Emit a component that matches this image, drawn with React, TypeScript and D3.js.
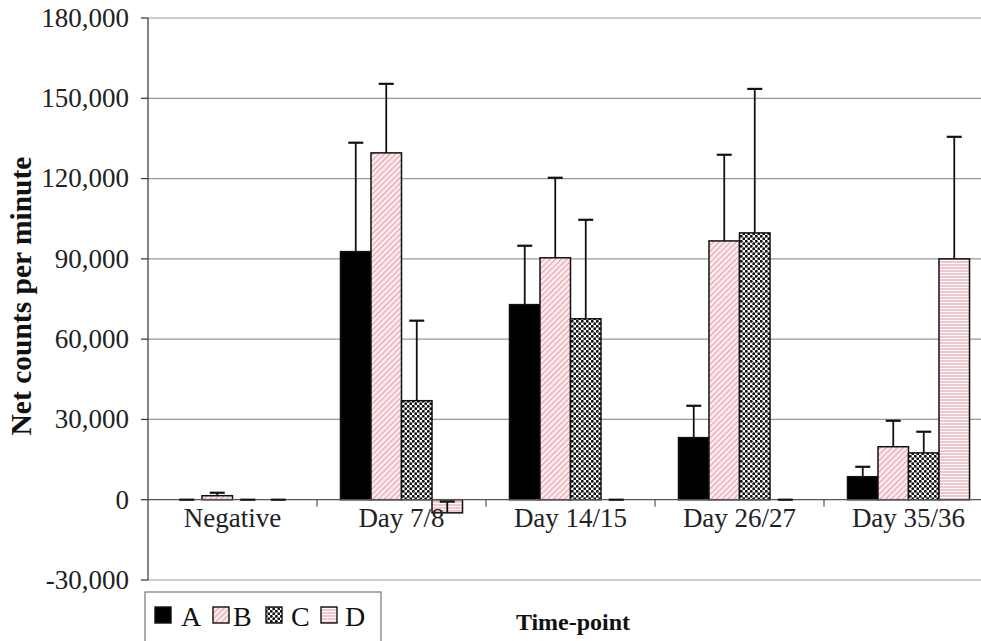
import React from "react";
import * as d3 from "d3";

const categories = ["Negative", "Day 7/8", "Day 14/15", "Day 26/27", "Day 35/36"];
const seriesNames = ["A", "B", "C", "D"];
const valuesA = [0, 92700, 72900, 23200, 8600];
const valuesB = [1500, 129600, 90400, 96700, 19800];
const valuesC = [0, 37000, 67600, 99700, 17500];
const valuesD = [0, -4900, 0, 0, 90000];
const errA = [0, 40700, 22000, 11900, 3700];
const errB = [1100, 25800, 29900, 32200, 9700];
const errC = [0, 29900, 37000, 53800, 7900];
const errD = [0, 4200, 0, 0, 45600];
const yTicks = [-30000, 0, 30000, 60000, 90000, 120000, 150000, 180000];

const seriesValues = [valuesA, valuesB, valuesC, valuesD];
const seriesErr = [errA, errB, errC, errD];
const fills = ["#000", "url(#patB)", "url(#patC)", "url(#patD)"];

const W = 981;
const H = 641;
const FONT = "'Liberation Serif', 'Times New Roman', serif";

export default function App() {
  const y = d3.scaleLinear().domain([-30000, 180000]).range([580, 18]);
  const x0 = d3.scaleBand<string>().domain(categories).range([148, 993]).padding(0);
  const bw = x0.bandwidth();
  const x1 = d3.scaleBand<string>().domain(seriesNames).range([bw * 0.139, bw * 0.861]).padding(0);
  const fmt = (t: number) => d3.format(",")(t).replace("\u2212", "-");
  const capW = 15;

  return (
    <svg width={W} height={H} style={{ position: "absolute", left: 0, top: 0, background: "#fff" }}>
      <defs>
        <pattern id="patB" width={4} height={4} patternUnits="userSpaceOnUse" patternTransform="rotate(45)">
          <rect width={4} height={4} fill="#fbe9ec" />
          <line x1={0} y1={0} x2={0} y2={4} stroke="#e48a9a" strokeWidth={1.6} />
        </pattern>
        <pattern id="patC" width={5} height={5} patternUnits="userSpaceOnUse">
          <rect width={5} height={5} fill="#fff" />
          <circle cx={1.25} cy={1.25} r={1.45} fill="#111" />
          <circle cx={3.75} cy={3.75} r={1.45} fill="#111" />
        </pattern>
        <pattern id="patD" width={4} height={3} patternUnits="userSpaceOnUse">
          <rect width={4} height={3} fill="#fff" />
          <line x1={0} y1={1} x2={4} y2={1} stroke="#eaa0ac" strokeWidth={1.2} />
        </pattern>
      </defs>

      {/* gridlines */}
      {yTicks.filter((t) => t !== 0).map((t) => (
        <line key={"g" + t} x1={148} x2={W} y1={y(t)} y2={y(t)} stroke="#999" strokeWidth={1.2} />
      ))}

      {/* y axis */}
      <line x1={148} x2={148} y1={y(180000)} y2={y(-30000)} stroke="#333" strokeWidth={1.2} />
      {yTicks.map((t) => (
        <g key={"t" + t}>
          <line x1={141} x2={148} y1={y(t)} y2={y(t)} stroke="#333" strokeWidth={1.2} />
          <text x={129} y={y(t)} dy="0.33em" textAnchor="end" fontFamily={FONT} fontSize={27} fill="#222">
            {fmt(t)}
          </text>
        </g>
      ))}

      {/* bars */}
      {categories.map((c, ci) => (
        <g key={c} transform={`translate(${x0(c)},0)`}>
          {seriesNames.map((s, si) => {
            const v = seriesValues[si][ci];
            const bx = x1(s) as number;
            const w = x1.bandwidth();
            const top = Math.min(y(v), y(0));
            const h = Math.abs(y(v) - y(0));
            return v !== 0 ? (
              <rect key={s} x={bx} y={top} width={w} height={h} fill={fills[si]} stroke="#111" strokeWidth={1.5} />
            ) : null;
          })}
        </g>
      ))}

      {/* x axis line */}
      <line x1={148} x2={W} y1={y(0)} y2={y(0)} stroke="#555" strokeWidth={1.2} />
      {categories.slice(1).map((c) => (
        <line key={"xt" + c} x1={x0(c)} x2={x0(c)} y1={y(0)} y2={y(0) + 7} stroke="#555" strokeWidth={1.2} />
      ))}

      {/* error bars */}
      {categories.map((c, ci) => (
        <g key={"e" + c} transform={`translate(${x0(c)},0)`}>
          {seriesNames.map((s, si) => {
            const v = seriesValues[si][ci];
            const e = seriesErr[si][ci];
            const cx = (x1(s) as number) + x1.bandwidth() / 2;
            return (
              <g key={s}>
                {e > 0 && <line x1={cx} x2={cx} y1={y(v)} y2={y(v + e)} stroke="#111" strokeWidth={1.8} />}
                <line x1={cx - capW / 2} x2={cx + capW / 2} y1={y(v + e)} y2={y(v + e)} stroke="#111" strokeWidth={2.2} />
              </g>
            );
          })}
        </g>
      ))}

      {/* category labels */}
      {categories.map((c) => (
        <text key={"l" + c} x={(x0(c) as number) + bw / 2} y={527} textAnchor="middle" fontFamily={FONT} fontSize={27} fill="#222">
          {c}
        </text>
      ))}

      {/* axis titles */}
      <text transform={`translate(31,296) rotate(-90)`} textAnchor="middle" fontFamily={FONT} fontSize={29.5} fontWeight="bold" fill="#111">
        Net counts per minute
      </text>
      <text x={573} y={630} textAnchor="middle" fontFamily={FONT} fontSize={24} fontWeight="bold" fill="#111">
        Time-point
      </text>

      {/* legend */}
      <rect x={145} y={592} width={236} height={60} fill="#fff" stroke="#777" strokeWidth={1.2} />
      {seriesNames.map((s, i) => {
        const sx = [155, 213, 266, 321][i];
        const tx = [181, 233, 291, 345][i];
        return (
          <g key={"lg" + s}>
            <rect x={sx} y={607} width={16} height={16} fill={fills[i]} stroke="#111" strokeWidth={1.4} />
            <text x={tx} y={626} fontFamily={FONT} fontSize={28} fill="#111">
              {s}
            </text>
          </g>
        );
      })}
    </svg>
  );
}
